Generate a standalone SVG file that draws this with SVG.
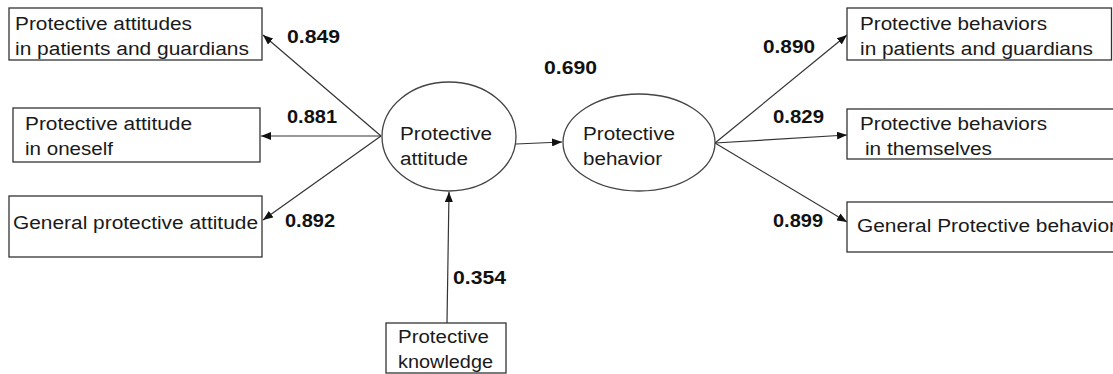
<svg xmlns="http://www.w3.org/2000/svg" width="1113" height="374" viewBox="0 0 1113 374">
<style>
.box{fill:#fff;stroke:#333;stroke-width:1.3}
.ell{fill:#fff;stroke:#444;stroke-width:1.3}
.t{font-family:"Liberation Sans",Arial,sans-serif;font-size:18px;fill:#1a1a1a}
.n{font-family:"Liberation Sans",Arial,sans-serif;font-size:18px;font-weight:bold;fill:#111}
.e{stroke:#333;stroke-width:1.2;fill:none;marker-end:url(#ah)}
</style>
<defs>
<marker id="ah" markerUnits="userSpaceOnUse" markerWidth="10" markerHeight="8" refX="10" refY="4" orient="auto">
<path d="M0,0 L10,4 L0,8 z" fill="#111"/>
</marker>
</defs>
<rect width="1113" height="374" fill="#fff"/>
<g id="connectors">
<line class="e" x1="381" y1="136" x2="263" y2="35"/>
<line class="e" x1="381" y1="136" x2="261" y2="136"/>
<line class="e" x1="381" y1="136" x2="263" y2="220"/>
<line class="e" x1="516" y1="144" x2="562" y2="142"/>
<line class="e" x1="447" y1="323" x2="449" y2="192"/>
<line class="e" x1="715" y1="143" x2="847" y2="35"/>
<line class="e" x1="715" y1="143" x2="847" y2="135"/>
<line class="e" x1="715" y1="143" x2="847" y2="222"/>
</g>
<g id="labels">
<text class="n" x="287" y="43" textLength="53" lengthAdjust="spacingAndGlyphs">0.849</text>
<text class="n" x="287" y="123" textLength="50" lengthAdjust="spacingAndGlyphs">0.881</text>
<text class="n" x="285" y="227" textLength="50" lengthAdjust="spacingAndGlyphs">0.892</text>
<text class="n" x="544" y="74" textLength="53" lengthAdjust="spacingAndGlyphs">0.690</text>
<text class="n" x="453" y="284" textLength="53" lengthAdjust="spacingAndGlyphs">0.354</text>
<text class="n" x="763" y="53" textLength="52" lengthAdjust="spacingAndGlyphs">0.890</text>
<text class="n" x="773" y="123" textLength="51" lengthAdjust="spacingAndGlyphs">0.829</text>
<text class="n" x="773" y="227" textLength="50" lengthAdjust="spacingAndGlyphs">0.899</text>
</g>
<g id="att-patients">
<rect class="box" x="9" y="8" width="253" height="52"/>
<text class="t" x="15" y="30" textLength="177" lengthAdjust="spacingAndGlyphs">Protective attitudes</text>
<text class="t" x="15" y="55" textLength="234" lengthAdjust="spacingAndGlyphs">in patients and guardians</text>
</g>
<g id="att-oneself">
<rect class="box" x="13" y="108" width="247" height="54"/>
<text class="t" x="25" y="130" textLength="167" lengthAdjust="spacingAndGlyphs">Protective attitude</text>
<text class="t" x="25" y="155" textLength="88" lengthAdjust="spacingAndGlyphs">in oneself</text>
</g>
<g id="att-general">
<rect class="box" x="9" y="196" width="253" height="61"/>
<text class="t" x="13" y="229" textLength="245" lengthAdjust="spacingAndGlyphs">General protective attitude</text>
</g>
<g id="attitude">
<ellipse class="ell" cx="449" cy="136.5" rx="67" ry="54.5"/>
<text class="t" x="400" y="140" textLength="92" lengthAdjust="spacingAndGlyphs">Protective</text>
<text class="t" x="400" y="165" textLength="68" lengthAdjust="spacingAndGlyphs">attitude</text>
</g>
<g id="behavior">
<ellipse class="ell" cx="639" cy="142.5" rx="76" ry="48.5"/>
<text class="t" x="583" y="140" textLength="92" lengthAdjust="spacingAndGlyphs">Protective</text>
<text class="t" x="583" y="165" textLength="79" lengthAdjust="spacingAndGlyphs">behavior</text>
</g>
<g id="knowledge">
<rect class="box" x="386" y="323" width="120" height="50"/>
<text class="t" x="398" y="343" textLength="91" lengthAdjust="spacingAndGlyphs">Protective</text>
<text class="t" x="398" y="368" textLength="95" lengthAdjust="spacingAndGlyphs">knowledge</text>
</g>
<g id="beh-patients">
<rect class="box" x="847" y="8" width="264.5" height="52"/>
<text class="t" x="860" y="30" textLength="187" lengthAdjust="spacingAndGlyphs">Protective behaviors</text>
<text class="t" x="860" y="55" textLength="233" lengthAdjust="spacingAndGlyphs">in patients and guardians</text>
</g>
<g id="beh-themselves">
<rect class="box" x="847" y="109" width="280" height="50"/>
<text class="t" x="860" y="130" textLength="187" lengthAdjust="spacingAndGlyphs">Protective behaviors</text>
<text class="t" x="865" y="155" textLength="127" lengthAdjust="spacingAndGlyphs">in themselves</text>
</g>
<g id="beh-general">
<rect class="box" x="847" y="202" width="280" height="50"/>
<text class="t" x="857" y="232" textLength="259" lengthAdjust="spacingAndGlyphs">General Protective behavior</text>
</g>
</svg>
